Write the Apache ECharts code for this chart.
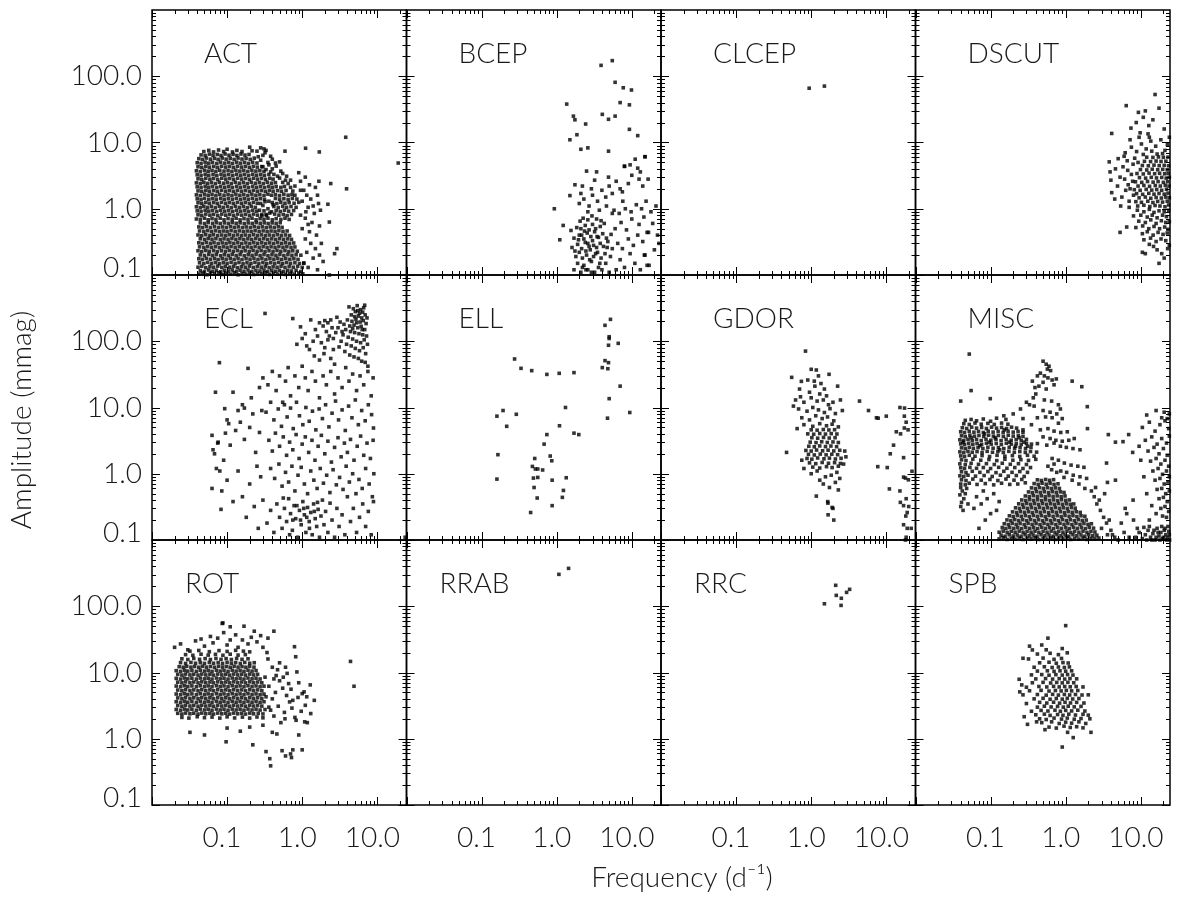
<!DOCTYPE html>
<html>
<head>
<meta charset="utf-8">
<script src="https://cdn.jsdelivr.net/npm/echarts@6/dist/echarts.min.js"></script>
<style>
html,body{margin:0;padding:0;background:#fff}
#chart{width:1182px;height:899px}
</style>
</head>
<body>
<div id="chart"></div>
<script>
// Frequency (d^-1) and amplitude (mmag) of each detected signal, stored flat: f0,a0, f1,a1, ...
const ACT = [
.042,.103,.047,.107,.054,.101,.06,.106,.068,.104,.077,.108,.087,.102,.098,.106,.11,.103,.124,.108,.14,.101,.158,.105,.178,.103,.2,.107,.227,.102,.256,.106,.29,.104,.326,.108,.368,.102,.415,.106,.47,.103,.53,.107,.6,.102,.68,.105,.78,.103,.9,.107,1.02,.104,
.044,.116,.05,.113,.057,.119,.064,.114,.072,.118,.082,.112,.092,.117,.104,.115,.117,.119,.133,.113,.149,.118,.168,.114,.19,.119,.214,.113,.242,.117,.274,.115,.31,.119,.348,.113,.394,.117,.445,.114,.5,.118,.565,.113,.64,.117,.72,.115,.83,.118,.96,.113,
.041,.131,.046,.135,.052,.129,.059,.134,.066,.131,.075,.136,.085,.13,.095,.134,.108,.131,.122,.135,.137,.129,.155,.133,.175,.131,.198,.136,.223,.13,.252,.134,.285,.131,.322,.135,.363,.129,.41,.133,.463,.131,.523,.136,.59,.13,.67,.134,.76,.131,.87,.135,1.0,.13,
.043,.153,.049,.149,.055,.155,.062,.15,.07,.154,.079,.148,.089,.153,.1,.15,.113,.155,.128,.149,.144,.154,.163,.148,.184,.153,.208,.15,.235,.155,.265,.149,.3,.154,.338,.148,.382,.153,.432,.15,.488,.155,.55,.149,.62,.154,.7,.15,.8,.153,.92,.149,1.05,.152,
.042,.176,.047,.172,.053,.178,.06,.173,.068,.177,.076,.171,.086,.176,.097,.173,.11,.178,.124,.172,.14,.177,.158,.171,.179,.176,.202,.173,.228,.178,.258,.172,.291,.177,.329,.171,.372,.176,.42,.173,.474,.178,.535,.172,.605,.177,.685,.173,.775,.176,.88,.172,
.044,.201,.05,.197,.057,.204,.064,.198,.072,.203,.082,.196,.092,.202,.104,.198,.117,.204,.132,.197,.149,.203,.169,.196,.191,.202,.215,.198,.243,.204,.275,.197,.31,.203,.35,.196,.396,.202,.447,.198,.505,.204,.57,.197,.645,.203,.73,.198,.83,.202,.96,.199,
.041,.232,.046,.226,.052,.234,.058,.228,.066,.233,.074,.226,.084,.232,.095,.227,.107,.234,.121,.228,.137,.233,.154,.226,.174,.232,.197,.227,.222,.234,.251,.228,.284,.233,.32,.226,.362,.232,.409,.227,.462,.234,.52,.228,.59,.233,.665,.227,.75,.232,.86,.228,
.043,.266,.049,.26,.055,.268,.062,.262,.07,.267,.079,.26,.089,.266,.1,.261,.113,.268,.128,.262,.145,.267,.164,.26,.185,.266,.209,.261,.236,.268,.267,.262,.302,.267,.341,.26,.385,.266,.435,.261,.49,.268,.555,.262,.625,.267,.71,.261,.8,.265,
.042,.306,.047,.299,.053,.309,.06,.301,.067,.307,.076,.299,.086,.305,.097,.3,.109,.308,.123,.301,.139,.306,.157,.299,.178,.305,.201,.3,.227,.308,.256,.301,.29,.306,.327,.299,.37,.305,.418,.3,.472,.308,.533,.301,.602,.306,.68,.3,.77,.304,
.044,.352,.05,.344,.056,.355,.063,.346,.071,.353,.081,.344,.091,.351,.103,.345,.116,.354,.131,.346,.148,.352,.167,.344,.189,.351,.213,.345,.241,.354,.272,.346,.308,.352,.347,.344,.392,.351,.443,.345,.5,.353,.565,.346,.64,.351,.72,.345,
.041,.402,.046,.393,.052,.406,.059,.396,.066,.404,.075,.394,.085,.401,.096,.395,.108,.405,.122,.396,.138,.403,.156,.394,.176,.401,.199,.395,.225,.405,.254,.396,.287,.403,.324,.394,.366,.401,.414,.395,.468,.405,.528,.396,.6,.402,.68,.395,
.043,.462,.049,.452,.055,.467,.062,.455,.07,.464,.079,.453,.089,.461,.1,.454,.113,.466,.128,.455,.145,.463,.164,.452,.185,.461,.209,.454,.236,.466,.267,.455,.302,.463,.341,.452,.385,.461,.435,.454,.49,.466,.555,.455,.63,.462,
.042,.532,.047,.52,.053,.537,.06,.523,.068,.534,.077,.521,.087,.531,.098,.522,.111,.536,.125,.524,.141,.533,.16,.52,.18,.531,.204,.522,.23,.536,.26,.524,.294,.533,.332,.52,.375,.531,.424,.522,.48,.535,.54,.524,
.044,.612,.05,.598,.056,.618,.064,.602,.072,.615,.081,.6,.092,.611,.104,.601,.117,.617,.132,.603,.149,.613,.169,.598,.191,.611,.216,.601,.244,.617,.276,.603,.312,.612,.352,.599,.398,.611,.45,.601,.51,.616,
.039,.7,.044,.69,.05,.72,.056,.68,.063,.71,.071,.69,.081,.72,.091,.68,.103,.71,.117,.69,.132,.72,.149,.68,.168,.71,.19,.69,.215,.72,.243,.68,.275,.71,.31,.69,.35,.72,.4,.68,.45,.71,.52,.69,.59,.72,.67,.69,
.041,.81,.046,.79,.052,.83,.059,.8,.066,.82,.075,.79,.085,.83,.096,.8,.108,.82,.122,.79,.138,.83,.156,.8,.176,.82,.199,.79,.225,.83,.254,.8,.29,.82,.335,.79,.43,.83,.49,.8,.56,.82,.63,.79,.72,.82,
.04,.93,.045,.91,.051,.95,.057,.92,.064,.94,.073,.91,.082,.95,.093,.92,.105,.94,.119,.91,.134,.95,.152,.92,.172,.94,.194,.91,.219,.95,.248,.92,.45,.94,.51,.91,.58,.95,.66,.92,.77,.94,
.039,1.07,.044,1.04,.049,1.09,.055,1.05,.062,1.08,.07,1.04,.079,1.09,.089,1.05,.101,1.08,.114,1.04,.129,1.09,.146,1.05,.165,1.08,.186,1.04,.21,1.09,.238,1.05,.42,1.08,.48,1.04,.55,1.09,.62,1.05,.71,1.08,.83,1.05,
.041,1.23,.046,1.2,.052,1.25,.058,1.21,.066,1.24,.074,1.2,.084,1.25,.095,1.21,.107,1.24,.121,1.2,.137,1.25,.155,1.21,.175,1.24,.198,1.2,.224,1.25,.253,1.21,.4,1.24,.46,1.2,.52,1.25,.59,1.21,.67,1.24,.78,1.21,
.27,.95,.3,1.12,.33,.82,.36,1.3,.29,.78,.35,1.0,.39,.9,.41,1.15,.32,1.28,.28,1.2,.37,.86,.31,.93,
.04,1.41,.045,1.37,.05,1.44,.057,1.39,.064,1.42,.072,1.38,.082,1.44,.092,1.39,.104,1.42,.118,1.38,.133,1.44,.151,1.39,.17,1.42,.192,1.38,.217,1.44,.246,1.39,.278,1.42,.315,1.38,.44,1.43,.5,1.39,.57,1.42,.65,1.38,.74,1.43,
.039,1.62,.044,1.58,.05,1.66,.056,1.6,.063,1.64,.071,1.58,.08,1.65,.091,1.6,.103,1.63,.116,1.58,.131,1.66,.148,1.6,.167,1.63,.189,1.58,.214,1.66,.242,1.6,.273,1.63,.31,1.58,.35,1.66,.39,1.6,.44,1.63,.5,1.58,.57,1.65,.65,1.6,.73,1.64,
.041,1.86,.046,1.82,.052,1.9,.058,1.84,.066,1.88,.074,1.82,.084,1.9,.095,1.84,.107,1.88,.121,1.82,.137,1.9,.155,1.84,.175,1.88,.198,1.82,.224,1.9,.253,1.84,.286,1.88,.323,1.82,.365,1.9,.41,1.84,.47,1.88,.53,1.83,.61,1.89,
.04,2.14,.045,2.09,.051,2.18,.057,2.11,.064,2.16,.073,2.09,.082,2.18,.093,2.11,.105,2.16,.118,2.09,.134,2.18,.151,2.11,.171,2.16,.193,2.09,.219,2.18,.247,2.11,.279,2.16,.316,2.09,.357,2.18,.4,2.11,.45,2.16,.52,2.1,.58,2.17,
.039,2.46,.044,2.4,.049,2.51,.055,2.42,.062,2.48,.07,2.4,.079,2.51,.09,2.43,.101,2.48,.114,2.4,.129,2.51,.146,2.43,.165,2.48,.186,2.4,.21,2.51,.238,2.43,.269,2.48,.304,2.4,.343,2.51,.39,2.43,.44,2.48,
.041,2.83,.046,2.76,.052,2.89,.059,2.79,.066,2.86,.075,2.76,.085,2.89,.096,2.8,.108,2.86,.122,2.76,.138,2.89,.156,2.8,.176,2.86,.199,2.76,.225,2.89,.254,2.8,.287,2.86,.325,2.77,.37,2.88,.41,2.8,
.04,3.25,.045,3.17,.051,3.32,.057,3.2,.065,3.29,.073,3.17,.083,3.32,.093,3.21,.105,3.29,.119,3.17,.134,3.32,.152,3.21,.171,3.29,.194,3.17,.219,3.32,.247,3.21,.28,3.28,.315,3.18,.36,3.3,
.039,3.74,.044,3.64,.05,3.82,.056,3.69,.063,3.78,.071,3.65,.08,3.82,.091,3.7,.103,3.78,.116,3.65,.131,3.82,.148,3.7,.167,3.78,.189,3.65,.214,3.82,.242,3.7,.273,3.77,.31,3.66,
.041,4.3,.046,4.19,.052,4.39,.058,4.24,.066,4.35,.074,4.19,.084,4.39,.095,4.25,.107,4.35,.121,4.19,.137,4.39,.155,4.25,.175,4.35,.198,4.2,.224,4.38,.253,4.25,.29,4.33,
.04,4.95,.045,4.82,.051,5.05,.057,4.88,.064,5.0,.073,4.82,.082,5.05,.093,4.88,.105,5.0,.118,4.82,.134,5.05,.151,4.88,.171,5.0,.193,4.83,.219,5.04,.25,4.9,
.042,5.7,.047,5.55,.053,5.82,.06,5.6,.068,5.76,.076,5.55,.086,5.82,.097,5.61,.11,5.76,.124,5.55,.14,5.82,.158,5.62,.179,5.75,.203,5.56,.23,5.8,
.045,6.5,.051,6.35,.058,6.68,.065,6.4,.074,6.6,.083,6.36,.094,6.7,.106,6.42,.12,6.62,.135,6.37,.153,6.7,.173,6.45,.196,6.6,
.049,7.3,.057,7.6,.066,7.2,.077,7.7,.09,7.3,.1,7.9,.118,7.2,.135,7.6,.158,7.3,.2,8.5,.215,7.5,.25,7.4,
.3,4.3,.33,3.9,.38,3.6,.42,3.3,.47,3.1,.5,2.9,.35,5.0,.28,5.4,.26,6.1,.3,6.4,.45,4.4,.55,3.4,.6,2.7,.65,2.4,.7,2.1,.75,1.85,.8,1.6,.85,1.4,.9,1.25,.5,5.1,.4,5.6,.32,7.0,.33,7.6,.28,8.3,.31,8.0,.4,4.0,.36,4.6,.55,2.5,.62,3.1,.7,2.7,.8,2.2,.95,1.9,.52,3.7,.44,4.9,.38,6.2,
1.05,.15,1.15,.22,1.2,.13,1.3,.3,1.25,.45,1.4,.18,1.5,.25,1.35,.62,1.45,.85,1.6,.12,1.55,.4,1.7,.2,1.1,.72,1.2,1.05,1.3,1.4,1.4,1.1,1.6,1.6,1.7,.55,1.75,.95,1.65,1.2,1.8,.3,1.9,.16,1.12,.9,1.05,1.9,1.25,2.3,1.5,2.1,.95,2.6,1.1,3.0,.9,3.5,1.0,1.3,1.15,1.6,1.1,.35,1.0,.5,.95,.8,1.2,.58,
.59,7.4,1.11,8.2,1.69,7.2,1.67,2.6,2.4,2.4,2.3,.63,2.9,.25,2.7,.21,2.2,1.17,3.8,12,19,4.9,3.9,2.0,2.3,.1
];
const BCEP = [
1.7,.12,1.9,.15,2.1,.11,2.3,.14,2.6,.12,2.9,.16,3.2,.11,3.6,.13,4.0,.12,4.5,.15,5.0,.11,1.8,.19,2.0,.22,2.2,.18,2.5,.2,2.8,.24,3.1,.19,3.5,.22,3.9,.18,4.4,.21,5.2,.19,1.6,.26,1.9,.29,2.15,.25,2.4,.31,2.7,.27,3.0,.33,3.4,.26,3.8,.3,4.2,.27,4.8,.32,5.5,.25,
1.7,.36,2.0,.4,2.3,.35,2.55,.43,2.85,.38,3.2,.45,3.6,.37,4.1,.42,4.6,.36,5.3,.41,1.55,.47,1.85,.52,2.1,.5,2.4,.56,2.7,.48,3.0,.58,3.3,.5,3.8,.54,4.3,.6,2.05,.65,2.25,.72,2.6,.68,2.95,.78,3.4,.7,3.9,.66,2.2,.13,2.75,.17,3.3,.21,2.45,.23,1.95,.34,3.45,.38,2.35,.46,2.9,.11,3.75,.15,4.7,.26,2.6,.3,3.1,.28,1.75,.23,2.15,.4,2.45,.12,
6.2,.12,7.0,.17,8.0,.13,9.5,.21,11,.15,13,.12,15,.2,17,.14,6.5,.3,7.5,.25,9.0,.35,10.5,.28,12,.4,14,.32,16,.44,6.0,.5,7.2,.62,8.5,.48,10,.7,12.5,.58,14.5,.75,18,.9,16.7,.44,20,.24,22,.4,6.8,.85,8.2,1.0,9.8,.9,11.5,1.15,13.5,1.0,15.5,1.3,5.8,.95,7.6,1.3,19,.6,21,1.1,23,.3,14.7,.2,16,.14,
1.5,1.58,1.75,2.3,2.2,2.2,2.5,3.7,3.4,3.6,4.9,3.0,2.0,1.2,2.3,1.4,2.7,1.1,3.0,1.6,3.5,1.3,4.0,1.9,4.5,1.5,5.0,2.2,5.5,1.7,6.2,2.6,7.0,2.0,8.0,4.4,9.5,4.6,11.1,5.6,12,4.1,15,6.1,10,3.2,12.5,2.8,14,2.2,16.5,2.8,13,3.6,3.2,2.7,2.9,2.0,2.1,1.7,1.22,.56,1.1,.34,.93,1.0,2.6,.9,3.7,.95,4.6,1.1,5.5,.85,7.5,1.8,9,2.4,
3.9,146,5.5,172,6.0,81,7.7,67,9.9,62,7.0,40,9.3,37,1.36,38,1.67,25,1.75,22,2.43,19,4.05,26.6,4.9,22.4,6.0,25,9.3,15.8,12,12.7,1.86,13.1,1.5,11,2.1,7.9,2.6,8.3,4.9,7.4,15,6.1,8.0,4.35
];
const CLCEP = [.94,66,1.5,71];
const DSCUT = [
9.1,1.1,11,1.13,13.2,1.08,15.5,1.12,18,1.1,21,1.07,23.5,1.14,
8.6,1.28,10.2,1.25,12.4,1.3,14.5,1.24,16.8,1.29,19.5,1.26,22.5,1.3,
9.5,1.46,11.5,1.5,13.6,1.44,16,1.48,18.8,1.45,21.5,1.5,24,1.47,
8.8,1.69,10.6,1.65,12.8,1.71,15,1.66,17.5,1.7,20.5,1.66,23,1.72,
8.2,1.94,9.8,1.9,11.8,1.96,14,1.91,16.3,1.95,19,1.9,22,1.97,
9.2,2.2,11,2.25,13.1,2.18,15.6,2.24,18.2,2.2,21.2,2.26,23.8,2.2,
8.5,2.55,10.3,2.5,12.3,2.58,14.6,2.52,17,2.57,20,2.5,22.8,2.56,
9.6,2.95,11.6,2.9,13.8,2.98,16.2,2.92,19,2.97,21.8,2.9,24,2.98,
8.9,3.4,10.8,3.35,12.9,3.45,15.3,3.38,17.8,3.43,20.8,3.37,23.2,3.42,
9.9,3.9,12,3.85,14.2,3.95,16.8,3.88,19.6,3.93,22.5,3.87,
10.5,4.5,12.6,4.45,15,4.55,17.6,4.48,20.5,4.52,23.4,4.46,
11.2,5.2,13.5,5.15,16,5.25,18.6,5.18,21.6,5.22,
12,6.0,14.5,5.95,17.2,6.05,20,5.98,23,6.02,
7.2,2.0,7.8,2.6,7.5,3.3,8.0,1.6,7.0,1.3,6.8,2.3,
6.2,7.0,7.5,8.5,8.8,7.3,10.2,9.5,11.8,8.0,13.6,10.5,15.8,8.8,18.5,11,21,7.6,9.5,12,12.5,13.5,7.2,11,16.5,6.7,19.5,6.8,22.6,9.3,10.8,6.6,14,7.4,8.3,5.8,9.2,5.0,7.9,4.7,6.6,5.3,13,12,24,12,
15.5,53,6.4,36,9.3,28.5,11.5,30,17.5,33,10.8,24,8.7,20,12.8,18,7.4,16.5,9.8,14,14.5,22,20.5,16,4.1,13.7,
3.8,5.1,3.9,3.6,4.0,2.7,4.1,1.75,4.6,4.0,4.9,2.2,5.3,3.0,5.6,1.5,6.1,2.8,5.0,5.7,5.8,4.3,6.3,1.9,6.7,3.8,5.4,1.1,4.5,1.4,7.0,1.05,6.0,6.2,
9,.95,11,.9,13,.98,15,.88,17.5,.93,20.5,.9,23.5,.95,
8,.78,10,.8,12.2,.75,14.2,.8,16.5,.73,19.5,.8,22,.76,
9.4,.65,11.5,.62,13.6,.68,16,.6,18.8,.66,21.5,.62,24,.64,
8.6,.52,10.6,.55,12.8,.5,15,.54,17.8,.5,20.8,.53,23,.49,
10.5,.42,12.2,.45,14.6,.4,17,.44,19.8,.41,22.5,.43,
11,.34,13.5,.36,16,.32,18.6,.35,21.5,.33,
10.5,.22,11.5,.21,14.8,.27,17.5,.15,19,.21,20.5,.18,22.8,.25,5.3,.44,6.5,.53,24,.28,13,.29,16.5,.24
];
const ECL = [
4.2,330,4.8,310,5.4,345,6.0,300,6.6,320,5.1,280,5.8,265,6.4,275,4.5,250,5.0,235,5.6,240,6.2,225,6.9,250,4.0,210,4.6,200,5.2,215,5.9,195,6.5,205,7.1,185,3.6,180,4.3,170,4.9,175,5.5,160,6.1,168,6.8,150,3.2,195,3.8,150,4.4,140,5.0,135,5.7,130,6.4,125,7.2,120,3.0,160,3.5,125,4.1,115,4.7,108,5.3,100,6.0,95,6.7,105,7.4,90,2.8,135,3.3,100,3.9,90,4.5,85,5.1,78,5.8,72,6.5,80,7.0,65,2.6,110,3.1,82,3.7,70,4.3,62,4.9,58,5.6,55,6.2,50,6.9,48,7.5,42,5.3,190,6.3,150,4.7,155,3.4,140,2.4,210,2.2,190,2.0,205,2.9,230,6.8,350,5.5,290,7.3,225,
1.3,210,1.5,150,1.7,190,1.9,170,2.1,140,2.3,120,2.5,160,1.4,100,1.6,120,1.8,95,2.0,80,2.2,105,2.6,75,1.25,75,1.45,60,1.7,52,1.95,65,2.4,55,2.7,45,1.1,130,.95,165,1.0,110,.75,220,1.15,85,.85,90,
.32,263,.3,28,.35,22,.4,35,.45,18,.5,30,.55,12,.6,25,.65,40,.7,15,.8,30,.9,20,1.0,42,1.1,28,1.2,18,1.35,35,1.5,25,1.7,14,1.9,30,2.1,22,2.4,35,2.7,16,3.0,28,3.4,20,3.8,40,4.2,25,4.7,32,5.3,18,5.9,30,6.6,22,7.5,35,8.3,15,8.8,28,
.33,8.5,.38,12,.42,6.5,.48,9.5,.53,5.2,.58,11,.63,7.2,.7,9.8,.76,4.8,.84,12,.92,7.5,1.02,5.5,1.12,10,1.24,6.2,1.37,8.8,1.52,4.6,1.68,9.5,1.86,6.8,2.05,11,2.27,5.1,2.5,8.2,2.78,12.5,3.05,6.5,3.4,9.2,3.75,4.5,4.15,10.5,4.6,7,5.1,13,5.6,5.5,6.2,9,6.9,6.3,7.6,11,8.4,7.8,8.9,4.9,
.36,3.2,.4,2.2,.44,4.1,.5,2.6,.56,3.6,.62,1.9,.68,3,.75,2.3,.83,3.9,.91,1.7,1.0,2.8,1.1,3.6,1.22,2.1,1.35,3.2,1.48,1.6,1.63,2.6,1.8,3.8,2.0,2.0,2.2,3.1,2.45,1.5,2.7,2.5,3.0,3.5,3.3,1.8,3.65,2.9,4.0,2.1,4.4,3.3,4.9,1.6,5.4,2.6,6.0,3.7,6.6,1.9,7.3,2.9,8.1,1.7,8.8,3.2,
.38,1.2,.43,.85,.49,1.4,.54,.65,.6,1.05,.66,.75,.73,1.3,.8,.55,.88,.95,.97,1.25,1.07,.7,1.18,.5,1.3,1.1,1.43,.8,1.58,.6,1.74,1.2,1.92,.72,2.12,.95,2.34,.52,2.58,1.15,2.85,.68,3.15,.88,3.5,.58,3.85,1.3,4.25,.75,4.7,1.0,5.2,.5,5.7,.82,6.3,.6,7.0,1.2,7.8,.7,8.6,.45,9.0,1.0,
.3,.4,.34,.18,.38,.28,.42,.13,.46,.35,.5,.22,.54,.15,.58,.3,.62,.19,.66,.42,.7,.25,.74,.14,.78,.33,.82,.21,.87,.11,.92,.28,.97,.17,1.02,.38,1.07,.24,1.12,.13,1.18,.31,1.24,.19,1.3,.26,1.36,.12,1.42,.35,1.49,.21,1.56,.16,1.63,.29,1.7,.11,1.78,.23,1.86,.4,1.95,.17,2.05,.27,2.2,.13,2.35,.36,2.5,.2,2.7,.11,2.9,.3,3.1,.16,3.4,.24,3.7,.12,4.0,.45,4.4,.19,4.8,.3,5.3,.13,5.8,.22,6.4,.35,7.0,.16,7.6,.27,8.3,.12,8.9,.38,.95,.2,1.15,.22,1.25,.15,1.45,.27,.85,.33,.68,.12,.56,.43,1.6,.37,.75,.2,1.05,.3,
.079,47.5,.07,17,.12,17,.19,39,.093,9.6,.063,3.8,.065,2.3,.063,.6,.083,.29,.11,2.7,.13,4.5,.15,6.0,.17,3.3,.2,5.0,.22,8.0,.24,2.1,.27,4.2,.072,1.2,.09,1.6,.1,.8,.14,1.1,.16,.45,.2,.7,.25,1.3,.28,.9,.085,.55,.12,.38,.18,.22,.23,.32,.26,.15,.068,2.0,.076,3.0,.1,6.5,.16,11,.21,14,.27,20,.29,9,.075,2.9,.08,1.1,.14,9,.17,9.8,.105,5.7,.095,4.1,23.5,.11
];
const ELL = [
5.2,214,4.4,174,5.0,117,5.0,110,4.9,87,6.6,93,4.4,51,4.9,47.5,4.05,40,4.8,38.5,7.0,21,5.0,13.6,4.75,6.9,9.4,8.4,
.275,54,.335,39,.465,36,.74,31.6,1.08,32.8,1.7,33.6,1.31,10,.16,7.4,.193,9.0,.29,7.9,.216,5.2,1.09,5.3,.74,3.9,1.7,4.1,1.97,3.9,.68,2.8,
.165,1.94,.51,1.7,.82,1.85,.86,1.57,.475,1.29,.52,1.18,.56,1.18,.65,1.14,.16,.83,.49,.86,.56,.88,.87,.8,1.34,.87,.5,.62,1.23,.56,.55,.43,1.19,.44,.87,.33,.45,.26
];
const GDOR = [
1.05,1.26,1.3,1.22,1.6,1.28,1.9,1.24,2.3,1.3,
.95,1.46,1.15,1.42,1.4,1.48,1.7,1.44,2.05,1.47,2.45,1.43,
.88,1.7,1.02,1.66,1.22,1.73,1.48,1.68,1.75,1.72,2.1,1.67,2.5,1.71,
.92,1.96,1.1,1.92,1.32,1.98,1.58,1.93,1.88,1.97,2.25,1.94,
.85,2.25,1.0,2.2,1.18,2.28,1.42,2.22,1.68,2.27,2.0,2.21,2.4,2.26,
.93,2.6,1.1,2.55,1.3,2.63,1.55,2.57,1.83,2.62,2.18,2.56,
.97,3.0,1.16,2.95,1.38,3.04,1.64,2.97,1.95,3.02,2.3,2.96,
1.02,3.5,1.22,3.44,1.46,3.53,1.74,3.46,2.08,3.5,
.9,4.0,1.08,3.95,1.3,4.05,1.55,3.97,1.85,4.03,2.2,3.98,
1.0,4.6,1.2,4.55,1.45,4.65,1.72,4.58,2.05,4.62,
.84,71,.55,28.5,.74,24.8,1.0,37.7,1.17,36.8,1.25,30,1.73,31.7,2.25,21,.7,19,.95,17,1.12,21,1.3,16,1.5,19,.62,13,.8,12,1.0,14,1.2,12.5,1.45,13,1.7,11,1.95,12,.68,9.5,.88,8.8,1.05,10,1.25,9.2,1.5,8.4,1.78,9.6,2.1,8.1,.75,7.0,.95,6.5,1.15,7.5,1.4,6.8,1.65,7.2,2.0,6.3,2.6,9.0,.8,5.5,1.05,5.2,1.3,5.7,1.6,5.3,1.9,5.6,2.3,5.1,.65,4.8,1.35,23,.9,26,1.6,15,2.45,13,.58,10.5,.72,14.5,1.1,25,
.47,2.1,1.17,.46,1.66,.38,1.67,.36,1.9,.31,1.95,.3,1.68,.24,2.0,.2,2.3,.57,2.1,.74,1.3,.8,1.55,.9,1.85,.95,2.2,1.05,1.0,1.0,1.2,1.1,1.45,.7,1.75,.62,2.4,.85,.8,1.2,.75,1.6,2.7,1.4,2.8,2.2,2.9,1.8,
4.4,12.5,5.8,9.0,7.4,7.0,7.8,6.9,10,7.4,15.2,10,17.5,9.8,17.4,7.4,18.4,6.0,17.4,4.9,19.5,4.6,13.6,4.3,15.5,4.0,12.5,2.7,11.3,2.0,17,1.75,7.7,1.28,10.3,1.24,22,1.09,17,.89,18,.86,19.7,.81,11,.59,15.2,.55,18.4,.42,15.4,.37,19.9,.32,17,.33,19,.26,18.2,.23,17,.17,19,.15,21.5,.15,18.4,.11,18,.1
];
const MISC = [
.13,.104,.147,.108,.166,.102,.188,.106,.212,.103,.24,.107,.271,.102,.306,.106,.346,.104,.39,.108,.44,.102,.5,.106,.565,.103,.64,.107,.72,.102,.81,.106,.92,.104,1.04,.108,1.17,.102,1.32,.106,1.5,.103,1.7,.107,1.92,.102,2.17,.106,2.45,.104,2.77,.107,
.138,.118,.156,.114,.177,.12,.2,.115,.226,.119,.255,.114,.288,.12,.326,.116,.368,.119,.415,.114,.47,.12,.53,.116,.6,.119,.68,.114,.765,.12,.865,.116,.98,.119,1.1,.114,1.25,.12,1.41,.116,1.6,.119,1.8,.114,2.03,.12,2.3,.116,2.6,.118,
.13,.131,.147,.136,.166,.13,.188,.135,.212,.131,.24,.136,.271,.13,.306,.135,.346,.131,.39,.136,.44,.13,.5,.135,.565,.131,.64,.136,.72,.13,.81,.135,.92,.131,1.04,.136,1.17,.13,1.32,.135,1.5,.131,1.7,.136,1.92,.13,2.17,.135,2.45,.132,
.143,.154,.16,.149,.18,.155,.204,.15,.23,.154,.26,.149,.294,.155,.332,.15,.375,.154,.424,.149,.48,.155,.54,.15,.61,.154,.69,.149,.78,.155,.88,.15,1.0,.154,1.12,.149,1.27,.155,1.43,.15,1.62,.154,1.83,.149,2.06,.155,2.35,.151,
.152,.176,.172,.171,.194,.178,.219,.172,.247,.177,.28,.171,.316,.178,.357,.172,.403,.177,.455,.171,.515,.178,.58,.172,.655,.177,.74,.171,.84,.178,.95,.172,1.07,.177,1.21,.171,1.37,.178,1.55,.172,1.75,.177,1.98,.172,2.2,.176,
.165,.201,.186,.196,.21,.203,.237,.197,.268,.202,.303,.196,.342,.203,.386,.197,.436,.202,.493,.196,.557,.203,.63,.197,.71,.202,.8,.196,.905,.203,1.02,.197,1.15,.202,1.3,.196,1.47,.203,1.66,.197,1.88,.2,
.178,.232,.2,.226,.227,.234,.256,.228,.29,.233,.327,.226,.37,.234,.418,.228,.472,.233,.533,.226,.6,.234,.68,.228,.77,.233,.87,.226,.98,.234,1.11,.228,1.25,.233,1.41,.226,1.6,.232,1.8,.228,
.196,.266,.222,.26,.25,.268,.283,.262,.32,.267,.36,.26,.408,.268,.46,.262,.52,.267,.59,.26,.665,.268,.75,.262,.85,.267,.96,.26,1.08,.268,1.22,.262,1.38,.267,1.56,.261,
.215,.306,.243,.3,.275,.309,.31,.301,.35,.307,.396,.3,.448,.308,.506,.301,.572,.306,.646,.3,.73,.308,.825,.301,.93,.306,1.05,.3,1.19,.308,1.34,.302,
.237,.352,.268,.345,.303,.355,.342,.346,.386,.353,.436,.345,.493,.354,.557,.346,.63,.352,.71,.345,.8,.354,.905,.346,1.02,.352,1.15,.346,1.28,.35,
.26,.402,.294,.394,.332,.406,.375,.396,.424,.404,.48,.394,.54,.405,.61,.396,.69,.403,.78,.394,.88,.405,1.0,.396,1.12,.402,
.29,.462,.327,.452,.37,.467,.418,.455,.472,.464,.533,.453,.6,.466,.68,.455,.77,.463,.87,.452,.98,.462,
.32,.532,.36,.52,.408,.537,.46,.523,.52,.534,.59,.521,.665,.536,.75,.524,.85,.533,.95,.522,
.35,.612,.396,.598,.448,.618,.506,.602,.572,.615,.646,.6,.73,.612,.825,.6,
.38,.71,.43,.69,.485,.72,.55,.695,.62,.715,.7,.69,.79,.705,
.42,.81,.475,.79,.54,.82,.61,.795,.69,.815,
.04,.7,.046,.68,.052,.72,.066,.69,.085,.71,.11,.68,.14,.72,.18,.69,.23,.7,.29,.73,
.041,.81,.047,.79,.058,.83,.075,.8,.098,.82,.125,.79,.16,.83,.205,.8,.26,.82,
.039,.93,.044,.91,.05,.95,.063,.92,.082,.94,.105,.91,.135,.95,.172,.92,.22,.94,.28,.91,
.041,1.07,.047,1.04,.057,1.09,.072,1.05,.092,1.08,.118,1.04,.15,1.09,.193,1.05,.245,1.08,.31,1.05,
.04,1.23,.045,1.2,.053,1.25,.065,1.21,.08,1.24,.1,1.2,.128,1.25,.165,1.21,.21,1.24,.27,1.2,.34,1.24,
.039,1.41,.046,1.37,.055,1.44,.069,1.39,.088,1.42,.112,1.38,.143,1.44,.183,1.39,.235,1.42,.3,1.38,
.041,1.62,.047,1.58,.058,1.66,.074,1.6,.095,1.64,.121,1.58,.155,1.66,.198,1.6,.253,1.63,.32,1.59,.4,1.65,
.04,1.86,.045,1.82,.052,1.9,.062,1.84,.077,1.88,.097,1.82,.122,1.9,.155,1.84,.195,1.88,.245,1.82,.31,1.9,.38,1.84,
.039,2.14,.044,2.09,.05,2.18,.057,2.11,.066,2.16,.077,2.09,.09,2.18,.106,2.11,.125,2.16,.148,2.09,.175,2.18,.207,2.11,.245,2.16,.29,2.1,.34,2.17,.41,2.12,
.041,2.46,.046,2.4,.052,2.51,.059,2.42,.068,2.48,.079,2.4,.092,2.51,.108,2.43,.127,2.48,.15,2.4,.177,2.51,.209,2.43,.247,2.48,.292,2.4,.345,2.5,
.04,2.83,.045,2.76,.051,2.89,.058,2.79,.066,2.86,.076,2.76,.088,2.89,.102,2.8,.119,2.86,.139,2.76,.162,2.89,.189,2.8,.22,2.86,.256,2.77,.3,2.88,.35,2.8,.42,2.85,
.039,3.25,.044,3.17,.05,3.32,.057,3.2,.065,3.29,.075,3.17,.087,3.32,.101,3.21,.118,3.29,.138,3.17,.161,3.32,.188,3.21,.219,3.29,.256,3.18,.3,3.3,
.041,3.74,.046,3.64,.053,3.82,.061,3.69,.07,3.78,.081,3.65,.094,3.82,.109,3.7,.127,3.78,.148,3.65,.172,3.82,.2,3.7,.234,3.77,.27,3.66,
.04,4.3,.045,4.19,.052,4.39,.06,4.24,.069,4.35,.08,4.19,.093,4.39,.108,4.25,.126,4.35,.147,4.19,.171,4.39,.2,4.25,.232,4.35,.27,4.22,
.042,4.95,.048,4.82,.056,5.05,.065,4.88,.076,5.0,.088,4.82,.103,5.05,.12,4.88,.14,5.0,.163,4.82,.19,5.05,.222,4.88,
.044,5.7,.052,5.55,.062,5.82,.075,5.6,.092,5.76,.112,5.55,.14,5.82,.17,5.6,
.046,6.4,.055,6.6,.065,6.3,.08,6.7,.1,6.2,.16,6.6,
.043,3.0,.055,3.5,.072,2.65,.083,4.0,.096,3.0,.115,3.5,.132,2.3,.152,4.6,.178,3.0,.215,2.6,.24,3.5,.28,3.0,.27,4.6,.31,2.6,
.04,.62,.042,.55,.039,.48,.044,.42,.041,.37,.04,.32,.043,.28,.046,.5,.05,.35,.048,.6,.06,.3,.065,.45,.08,.55,.075,.35,.09,.42,.11,.5,.13,.38,.12,.28,.1,.25,.085,.2,.07,.15,
.5,50,.55,45,.6,42,.57,38,.63,36,.52,30,.58,28,.66,26,.5,24,.44,21,.55,19,.7,22,.75,27,.4,16,.52,13,.65,12.5,.8,11,.38,10.5,.5,9,.62,8.5,.76,8,.85,9.5,.42,7,.54,7.2,.66,7,.8,5.8,.9,6.8,.35,5.5,.46,4.6,.58,4.8,.7,4.4,.86,4.2,1.05,4.3,
.5,3.6,.62,3.4,.74,3.2,.9,3.1,1.1,3.2,1.3,3.4,.56,2.7,.7,2.9,.85,2.6,1.02,2.5,1.25,2.4,1.55,2.3,.66,1.7,.8,1.6,.96,1.45,1.18,1.35,1.45,1.3,1.75,1.25,
.7,1.4,.86,1.1,1.03,1.05,1.26,.95,1.55,.9,1.9,.85,.76,1.05,.65,1.15,.58,1.3,.95,.88,1.22,.8,1.5,.7,1.8,.6,2.2,.55,2.4,.45,2.6,.35,2.9,.28,3.2,.22,3.5,.18,3.0,.15,3.6,.12,4.0,.14,4.5,.11,2.8,.4,2.5,.62,3.3,.5,
.052,64,.055,18,.04,12.5,.099,13.6,1.22,25,1.64,20.6,1.94,10.3,1.95,4.8,3.7,3.9,4.6,3.0,5.8,3.05,6.9,3.9,7.8,2.1,3.5,1.45,4.6,.8,3.6,.74,6.2,.3,7.9,.4,12,7.7,16,9,.3,12,.25,9.5,.2,8,.15,7.5,.12,6.9,.33,11,.27,6.8,.37,14,.42,30,.36,25,.46,33,.39,20,
10.5,5,13,6,15.5,4.4,18,5.5,21,6.3,23.5,4.8,11.5,3.2,14,3.6,16.5,2.8,19,3.4,22,2.9,24,3.7,12.5,2.2,15,2.5,17.5,2.0,20,2.4,22.5,1.9,13.5,1.55,16,1.7,18.5,1.4,21,1.6,23.5,1.3,14.5,1.1,17,1.2,19.5,.98,22,1.1,24,.9,15.5,.8,18,.85,20.5,.7,23,.75,16.5,.58,19,.6,21.5,.5,24,.55,17.5,.42,20,.44,22.5,.38,18.5,.3,21,.32,23.5,.27,19.5,.23,22,.22,12,.5,14,.33,11,.9,10,1.6,9.5,2.6,13,.2,16,.25,20.5,8.5,22.5,6.8,24,8,19,7,
8.5,.11,9.5,.13,10.5,.105,11.5,.12,12.5,.14,13.5,.11,14.5,.125,15.5,.1,16.5,.15,17.5,.115,18.5,.13,19.5,.105,20.5,.14,21.5,.12,22.5,.11,23.5,.135,24.2,.1,9,.15,11,.155,13,.16,15,.14,17,.13,19,.16,21,.15,23,.16,12,.1,14,.1,16,.11,18,.1,20,.11,22,.1,24,.12,
4.2,.12,5.0,.1,6.0,.13,7.0,.11,3.8,.2,5.5,.18,6.5,.25,8,.2
];
const ROT = [
.025,2.1,.031,2.05,.04,2.15,.05,2.08,.063,2.12,.08,2.05,.1,2.14,.126,2.06,.16,2.12,.2,2.05,.25,2.13,.3,2.07,
.022,2.42,.025,2.36,.028,2.44,.032,2.38,.036,2.43,.041,2.36,.046,2.44,.052,2.38,.059,2.42,.066,2.36,.075,2.44,.085,2.38,.096,2.43,.108,2.36,.122,2.44,.138,2.38,.156,2.42,.176,2.36,.2,2.44,.225,2.38,.26,2.42,.3,2.37,
.021,2.77,.024,2.7,.027,2.8,.03,2.72,.034,2.78,.039,2.7,.044,2.8,.05,2.72,.056,2.78,.063,2.7,.072,2.8,.081,2.72,.091,2.78,.103,2.7,.117,2.8,.132,2.72,.149,2.78,.168,2.7,.19,2.8,.215,2.72,.243,2.78,.275,2.71,.32,2.76,
.022,3.17,.025,3.1,.028,3.2,.032,3.12,.036,3.18,.041,3.1,.046,3.2,.052,3.12,.059,3.18,.066,3.1,.075,3.2,.085,3.12,.096,3.18,.108,3.1,.122,3.2,.138,3.12,.156,3.18,.176,3.1,.2,3.2,.225,3.12,.255,3.18,.29,3.11,
.021,3.62,.024,3.54,.027,3.66,.03,3.56,.034,3.64,.039,3.54,.044,3.66,.05,3.56,.056,3.64,.063,3.54,.072,3.66,.081,3.56,.091,3.64,.103,3.54,.117,3.66,.132,3.56,.149,3.64,.168,3.54,.19,3.66,.215,3.56,.243,3.64,.275,3.55,.31,3.62,
.022,4.13,.025,4.03,.028,4.17,.032,4.06,.036,4.15,.041,4.03,.046,4.17,.052,4.06,.059,4.15,.066,4.03,.075,4.17,.085,4.06,.096,4.15,.108,4.03,.122,4.17,.138,4.06,.156,4.15,.176,4.03,.2,4.17,.225,4.06,.255,4.15,.29,4.05,
.021,4.73,.024,4.62,.027,4.78,.03,4.65,.034,4.75,.039,4.62,.044,4.78,.05,4.65,.056,4.75,.063,4.62,.072,4.78,.081,4.65,.091,4.75,.103,4.62,.117,4.78,.132,4.65,.149,4.75,.168,4.62,.19,4.78,.215,4.65,.243,4.75,.275,4.63,.31,4.72,
.022,5.43,.025,5.3,.028,5.49,.032,5.34,.036,5.46,.041,5.3,.046,5.49,.052,5.34,.059,5.46,.066,5.3,.075,5.49,.085,5.34,.096,5.46,.108,5.3,.122,5.49,.138,5.34,.156,5.46,.176,5.3,.2,5.49,.225,5.34,.255,5.46,.29,5.32,
.021,6.24,.024,6.1,.027,6.3,.03,6.14,.034,6.27,.039,6.1,.044,6.3,.05,6.14,.056,6.27,.063,6.1,.072,6.3,.081,6.14,.091,6.27,.103,6.1,.117,6.3,.132,6.14,.149,6.27,.168,6.1,.19,6.3,.215,6.14,.243,6.27,.275,6.12,.31,6.22,
.022,7.14,.025,6.98,.028,7.22,.032,7.03,.036,7.18,.041,6.98,.046,7.22,.052,7.03,.059,7.18,.066,6.98,.075,7.22,.085,7.03,.096,7.18,.108,6.98,.122,7.22,.138,7.03,.156,7.18,.176,6.98,.2,7.22,.225,7.03,.255,7.18,.29,7.0,
.021,8.15,.024,7.96,.027,8.24,.03,8.02,.034,8.2,.039,7.96,.044,8.24,.05,8.02,.056,8.2,.063,7.96,.072,8.24,.081,8.02,.091,8.2,.103,7.96,.117,8.24,.132,8.02,.149,8.2,.168,7.96,.19,8.24,.215,8.02,.243,8.2,.275,7.98,
.022,9.35,.025,9.14,.028,9.46,.032,9.2,.036,9.4,.041,9.14,.046,9.46,.052,9.2,.059,9.4,.066,9.14,.075,9.46,.085,9.2,.096,9.4,.108,9.14,.122,9.46,.138,9.2,.156,9.4,.176,9.14,.2,9.46,.225,9.2,.255,9.38,
.021,10.65,.024,10.4,.027,10.8,.03,10.5,.034,10.7,.039,10.4,.044,10.8,.05,10.5,.056,10.7,.063,10.4,.072,10.8,.081,10.5,.091,10.7,.103,10.4,.117,10.8,.132,10.5,.149,10.7,.168,10.4,.19,10.8,.215,10.5,.243,10.7,
.023,12.25,.026,12,.029,12.4,.033,12.05,.037,12.3,.042,12,.047,12.4,.053,12.05,.06,12.3,.068,12,.077,12.4,.087,12.05,.098,12.3,.11,12,.124,12.4,.14,12.05,.158,12.3,.178,12,.2,12.4,.228,12.05,
.024,14.1,.028,13.7,.033,14.2,.038,13.8,.044,14.1,.05,13.7,.058,14.2,.066,13.8,.076,14.1,.087,13.7,.1,14.2,.114,13.8,.13,14.1,.15,13.7,.172,14.2,.2,13.8,.23,14.05,
.025,16.1,.03,15.7,.036,16.3,.043,15.8,.051,16.2,.06,15.7,.071,16.3,.083,15.8,.097,16.2,.114,15.7,.134,16.3,.158,15.8,.19,16.1,
.028,18.6,.035,18.2,.045,18.9,.056,18.3,.07,18.8,.088,18.2,.11,18.9,.14,18.3,.175,18.6,
.032,21,.042,21.5,.058,20.6,.078,21.4,.1,20.8,.13,21.6,.165,21,.2,20.5,
.02,24,.024,27,.03,22,.038,30,.05,25,.065,28,.075,33,.086,55,.088,56,.11,49,.168,50,.23,42,.42,42,.13,37,.16,31,.19,27,.09,40,.06,35,.045,32,.1,26,.14,24,.25,29,.3,24,.35,33,.28,36,.21,34,.11,31,
.79,24.5,1.28,6.5,4.4,14.7,4.9,6.2,.38,.39,.37,.5,.33,.64,.54,.66,.6,.55,.7,.59,.72,.52,.75,.68,1.0,.68,.22,.81,.9,1.14,.097,.9,.032,1.25,.05,1.14,.4,1.25,.46,1.18,.59,2.0,.83,1.9,1.08,1.8,1.17,1.75,.97,2.6,.73,2.9,1.15,4.3,1.06,5.1,.71,5.6,.63,9.7,.85,10.2,.82,17.3,.35,16,.4,12,.45,9,.5,7.5,.55,5.8,.62,4.5,.68,3.6,.38,2.7,.42,2.2,.48,3.1,.52,1.75,.58,2.5,.66,6.8,.34,20,.5,14,.6,12,.9,7,1.0,4.8,1.1,3.2,1.3,2.4,1.45,3.8,.8,2.1,.33,4.3,.36,6.2,.32,8.5,.4,4.0,.44,5.0,.36,3.0,.42,8.0,.47,11,.56,8.5,.3,1.6,.15,1.3,.2,1.5,.1,1.45,.75,3.8,.88,4.2
];
const RRAB = [1.07,303,1.44,373];
const RRC = [2.12,207,1.5,109,2.16,146,2.52,132,2.5,103,2.96,162,3.25,180];
const SPB = [
.9,.75,1.26,1.04,2.17,1.25,1.06,1.25,.53,1.37,.41,1.8,.31,1.65,.28,2.15,.245,5.1,.26,6.5,.24,7.9,.33,25,.36,21.9,.27,16.4,1.0,51,.58,33,
.6,1.5,.75,1.45,.95,1.55,1.15,1.48,1.4,1.52,1.7,1.46,
.48,1.75,.65,1.8,.82,1.7,1.0,1.78,1.2,1.72,1.5,1.8,1.85,1.7,
.45,2.0,.55,1.95,.7,2.05,.88,1.98,1.05,2.05,1.3,1.97,1.6,2.02,2.1,2.0,
.4,2.3,.52,2.35,.62,2.25,.78,2.32,.92,2.26,1.1,2.35,1.35,2.28,1.7,2.34,2.0,2.27,
.35,2.6,.47,2.68,.58,2.62,.72,2.7,.85,2.6,1.0,2.68,1.2,2.63,1.45,2.7,1.8,2.62,
.42,3.0,.52,3.1,.64,3.02,.78,3.08,.93,3.0,1.08,3.1,1.3,3.03,1.6,3.08,
.3,3.4,.45,3.55,.56,3.46,.69,3.56,.83,3.45,.98,3.55,1.16,3.47,1.4,3.54,1.75,3.46,
.38,4.0,.5,4.08,.62,3.95,.75,4.05,.9,3.96,1.05,4.07,1.24,3.98,1.5,4.05,
.27,4.6,.42,4.65,.55,4.55,.67,4.68,.8,4.56,.96,4.66,1.13,4.58,1.35,4.65,1.65,4.57,2.0,4.6,
.33,5.3,.47,5.38,.6,5.25,.73,5.35,.87,5.27,1.02,5.37,1.2,5.28,1.45,5.35,
.3,6.0,.44,6.15,.56,6.05,.69,6.18,.82,6.06,.97,6.15,1.15,6.08,1.38,6.14,1.7,6.05,
.36,7.0,.5,7.1,.63,6.95,.76,7.08,.9,6.97,1.07,7.1,1.28,7.0,
.4,8.0,.54,8.1,.67,7.95,.82,8.08,.97,7.96,1.14,8.1,1.4,8.02,
.35,9.2,.48,9.3,.6,9.1,.74,9.28,.9,9.14,1.06,9.3,1.25,9.15,
.42,10.5,.57,10.6,.7,10.4,.84,10.6,1.0,10.45,1.2,10.6,
.38,12,.52,12.2,.66,11.9,.8,12.1,.96,11.9,1.12,12.15,
.45,14,.6,14.3,.75,13.8,.92,14.1,1.08,13.9,
.32,16,.5,16.5,.7,15.8,.88,16.3,
.42,19,.62,19.5,.8,18.6,1.05,19.8,
.55,22,.9,23,.48,26
];

const CLASS_NAMES = ['ACT','BCEP','CLCEP','DSCUT','ECL','ELL','GDOR','MISC','ROT','RRAB','RRC','SPB'];
const CLASS_POINTS = [ACT, BCEP, CLCEP, DSCUT, ECL, ELL, GDOR, MISC, ROT, RRAB, RRC, SPB];
const FREQ_RANGE = [0.01, 24.5];
const AMP_RANGE = [0.1, 1000];
const FREQ_LABELS = [0.1, 1, 10];
const AMP_LABELS = [0.1, 1, 10, 100];

// panel layout: 4 columns x 3 rows sharing their frames
const COL_LEFT = [152, 406.5, 661, 915.5];
const ROW_TOP = [10, 275, 540];
const CELL_W = 254.5, CELL_H = 265;
const FONT = 'Lato, "DejaVu Sans", sans-serif';
const FONT_SIZE = 28;
const FONT_WEIGHT = 300;
const INK = '#1a1a1a';
const textBase = { fontFamily: FONT, fontSize: FONT_SIZE, fontWeight: FONT_WEIGHT, color: INK };

function pairs(flat) {
  const out = [];
  for (let i = 0; i + 1 < flat.length; i += 2) out.push([flat[i], flat[i + 1]]);
  return out;
}
function sameValue(a, b) { return Math.abs(Math.log10(a) - Math.log10(b)) < 1e-6; }

// log tick marks: long at decades, short at 2..9 within each decade
const tickData = [];
for (let e = -2; e <= 1; e++) {
  for (let k = 1; k <= 9; k++) {
    const v = k * Math.pow(10, e);
    if (v <= FREQ_RANGE[1]) tickData.push([v, 1, k === 1 ? 0 : 1]);
  }
}
for (let e = -1; e <= 2; e++) {
  for (let k = 1; k <= 9; k++) tickData.push([1, k * Math.pow(10, e), k === 1 ? 2 : 3]);
}

function renderTicks(params, api) {
  const kind = api.value(2);
  const len = (kind === 0 || kind === 2) ? 8 : 4;
  const style = { stroke: '#000', lineWidth: 1 };
  if (kind < 2) {
    const b = api.coord([api.value(0), AMP_RANGE[0]]);
    const t = api.coord([api.value(0), AMP_RANGE[1]]);
    const x = Math.round(b[0]) + 0.5;
    return { type: 'group', children: [
      { type: 'line', shape: { x1: x, y1: b[1], x2: x, y2: b[1] - len }, style },
      { type: 'line', shape: { x1: x, y1: t[1], x2: x, y2: t[1] + len }, style }
    ]};
  }
  const l = api.coord([FREQ_RANGE[0], api.value(1)]);
  const r = api.coord([FREQ_RANGE[1], api.value(1)]);
  const y = Math.round(l[1]) + 0.5;
  return { type: 'group', children: [
    { type: 'line', shape: { x1: l[0], y1: y, x2: l[0] + len, y2: y }, style },
    { type: 'line', shape: { x1: r[0], y1: y, x2: r[0] - len, y2: y }, style }
  ]};
}

const grids = [], xAxes = [], yAxes = [], series = [], titles = [];
CLASS_NAMES.forEach((name, i) => {
  const col = i % 4, row = Math.floor(i / 4);
  grids.push({ left: COL_LEFT[col], top: ROW_TOP[row], width: CELL_W, height: CELL_H,
    show: true, borderColor: '#000', borderWidth: 1.5, backgroundColor: 'transparent' });
  xAxes.push({
    gridIndex: i, type: 'log', logBase: 10, min: FREQ_RANGE[0], max: FREQ_RANGE[1],
    axisLine: { show: false }, axisTick: { show: false }, splitLine: { show: false },
    axisLabel: Object.assign({
      show: row === 2, margin: 19,
      formatter: v => FREQ_LABELS.some(t => sameValue(t, v)) ? '{s|' + v.toFixed(1) + '}' : '',
      rich: { s: Object.assign({ padding: [0, 10, 0, 0] }, textBase) }
    }, textBase)
  });
  yAxes.push({
    gridIndex: i, type: 'log', logBase: 10, min: AMP_RANGE[0], max: AMP_RANGE[1],
    axisLine: { show: false }, axisTick: { show: false }, splitLine: { show: false },
    axisLabel: Object.assign({
      show: col === 0, margin: 10,
      formatter: v => {
        if (!AMP_LABELS.some(t => sameValue(t, v))) return '';
        return sameValue(v, AMP_LABELS[0]) ? '{low|' + v.toFixed(1) + '}' : v.toFixed(1);
      },
      rich: { low: Object.assign({ padding: [0, 0, 14, 0] }, textBase) }
    }, textBase)
  });
  series.push({
    type: 'scatter', xAxisIndex: i, yAxisIndex: i, data: pairs(CLASS_POINTS[i]),
    symbol: 'rect', symbolSize: 3.6, itemStyle: { color: '#000' }, silent: true, clip: true
  });
  series.push({
    type: 'custom', xAxisIndex: i, yAxisIndex: i, data: tickData, encode: { x: 0, y: 1 },
    renderItem: renderTicks, clip: false, silent: true
  });
  titles.push({
    text: name, left: COL_LEFT[col] + (row === 2 ? 33 : 52), top: ROW_TOP[row] + 30, padding: 0,
    textStyle: textBase
  });
});

const chart = echarts.init(document.getElementById('chart'), null, { renderer: 'canvas' });
chart.setOption({
  animation: false,
  backgroundColor: '#fff',
  title: titles,
  grid: grids,
  xAxis: xAxes,
  yAxis: yAxes,
  series: series,
  graphic: [
    { type: 'text', x: 682, y: 878, silent: true,
      style: { text: 'Frequency (d⁻¹)', font: FONT_WEIGHT + ' ' + FONT_SIZE + 'px ' + FONT, fill: INK, align: 'center', verticalAlign: 'middle' } },
    { type: 'text', x: 22, y: 420, rotation: Math.PI / 2, silent: true,
      style: { text: 'Amplitude (mmag)', font: FONT_WEIGHT + ' ' + FONT_SIZE + 'px ' + FONT, fill: INK, align: 'center', verticalAlign: 'middle' } }
  ]
});
</script>
</body>
</html>
